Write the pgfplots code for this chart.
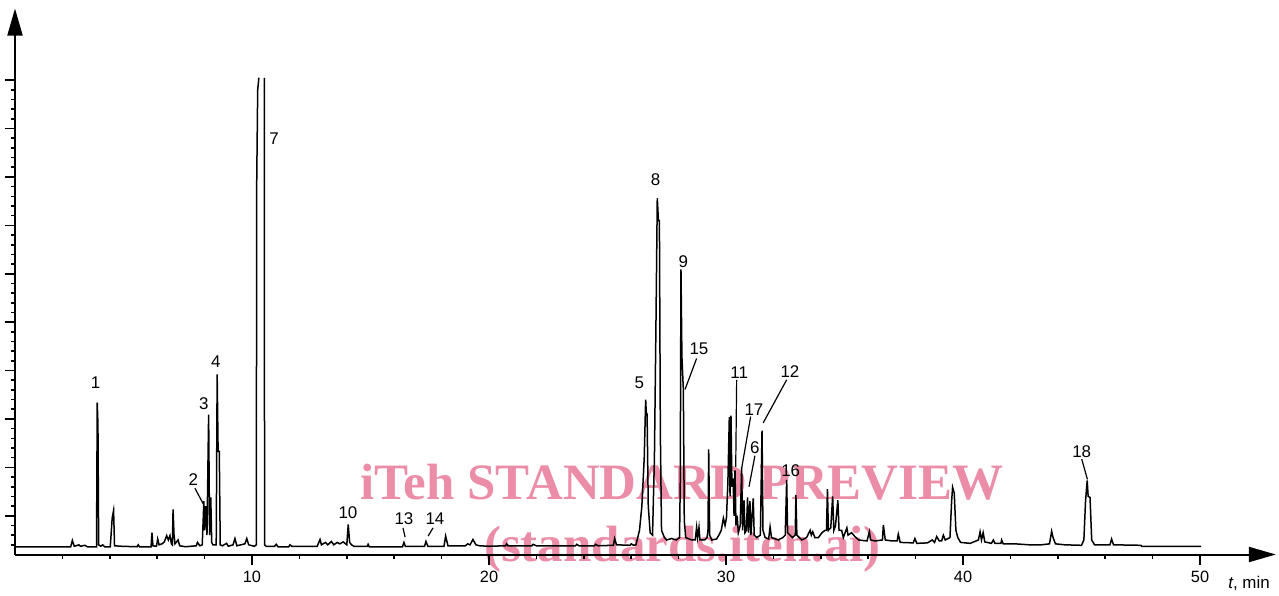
\documentclass[border=0pt]{standalone}
\usepackage{fontspec}
\setmainfont{Liberation Sans}
\newfontfamily\wmfont{Liberation Serif}
\usepackage{pgfplots}
\pgfplotsset{compat=1.18}
\usetikzlibrary{arrows.meta}
\definecolor{wmpink}{RGB}{236,141,168}
\begin{document}
\begin{tikzpicture}
\useasboundingbox (0,0) rectangle (639.5bp,298bp);
\node[anchor=base, text=wmpink, inner sep=0pt, font=\wmfont\bfseries\fontsize{25.6}{28}\selectfont] at (341bp,48bp) {iTeh STANDARD PREVIEW};
\node[anchor=base, text=wmpink, inner sep=0pt, font=\wmfont\bfseries\fontsize{25.6}{28}\selectfont] at (341.25bp,17.5bp) {(standards.iteh.ai)};
\begin{axis}[
  anchor=south west, at={(7.5bp,20.75bp)},
  x=11.85bp, y=24.2bp,
  xmin=0, xmax=53.2, ymin=0, ymax=11.28,
  axis lines=left,
  axis line style={line width=1bp, -{Triangle[length=13.5bp,width=7.5bp]}},
  xtick={10,20,30,40,50},
  minor xtick={2,4,6,8,12,14,16,18,22,24,26,28,32,34,36,38,42,44,46,48},
  ytick={0.8,1.8,2.8,3.8,4.8,5.8,6.8,7.8,8.8,9.8},
  minor ytick={0.2,0.4,0.6,1.0,1.2,1.4,1.6,2.0,2.2,2.4,2.6,3.0,3.2,3.4,3.6,4.0,4.2,4.4,4.6,5.0,5.2,5.4,5.6,6.0,6.2,6.4,6.6,7.0,7.2,7.4,7.6,8.0,8.2,8.4,8.6,9.0,9.2,9.4,9.6},
  yticklabels={},
  tick align=outside,
  major tick length=5bp, minor tick length=2.2bp,
  every tick/.style={line width=0.8bp, black},
  /pgf/number format/assume math mode=true,
  xticklabel style={font=\fontsize{8.2}{9}\selectfont},
  clip=false,
  unbounded coords=jump,
]
\addplot[black, line width=0.75bp, mark=none] coordinates {
(0,0.16) (2.35,0.16) (2.42,0.29) (2.5,0.17) (2.7,0.2) (2.76,0.17) (2.95,0.19) (3.05,0.16)
(3.44,0.16) (3.47,3.14) (3.5,2.68) (3.53,0.2) (3.62,0.17) (3.7,0.2) (3.78,0.16)
(4.02,0.16) (4.1,0.75) (4.16,0.91) (4.2,0.18) (4.5,0.17) (5.15,0.16) (5.2,0.2) (5.25,0.16)
(5.74,0.16) (5.78,0.45) (5.82,0.18) (5.97,0.17) (6.02,0.32) (6.08,0.2) (6.2,0.22) (6.3,0.26)
(6.4,0.39) (6.47,0.3) (6.54,0.39) (6.6,0.22) (6.64,0.2) (6.67,0.93) (6.71,0.4) (6.75,0.22)
(6.88,0.3) (6.95,0.18) (7.2,0.16) (7.65,0.18) (7.7,0.25) (7.8,0.18) (7.9,0.2)
(7.97,1.1) (8.0,0.5) (8.05,1.0) (8.1,0.4) (8.17,2.89) (8.21,0.4) (8.26,1.18) (8.3,0.25)
(8.35,0.2) (8.49,0.2) (8.53,3.72) (8.57,2.13) (8.62,2.13) (8.66,0.2) (8.75,0.18)
(8.93,0.23) (9.0,0.17) (9.2,0.2) (9.28,0.33) (9.36,0.18) (9.7,0.22) (9.78,0.33) (9.86,0.2)
(10.1,0.17) (10.18,0.2) (10.2,7.73) (10.24,9.6) (10.29,9.85) (10.4,nan) (10.52,9.85)
(10.53,0.2) (10.6,0.17) (10.95,0.17) (11.02,0.21) (11.1,0.16) (11.55,0.16) (11.6,0.2) (11.68,0.17)
(12.75,0.17) (12.87,0.31) (12.93,0.2) (13.1,0.25) (13.2,0.2) (13.35,0.27) (13.45,0.2)
(13.6,0.25) (13.7,0.22) (13.85,0.26) (14.0,0.2) (14.06,0.62) (14.12,0.25) (14.2,0.2) (14.3,0.17)
(14.87,0.17) (14.9,0.21) (14.95,0.16) (16.35,0.16) (16.41,0.25) (16.47,0.17)
(17.28,0.17) (17.34,0.27) (17.42,0.17) (18.1,0.17) (18.17,0.38) (18.27,0.18)
(19.0,0.18) (19.1,0.22) (19.2,0.2) (19.32,0.31) (19.45,0.2) (19.6,0.18) (20.0,0.17)
(20.7,0.18) (20.74,0.22) (20.8,0.18) (21.8,0.18) (21.86,0.21) (22.0,0.18) (23.65,0.18)
(23.7,0.21) (23.8,0.18) (24.45,0.18) (24.5,0.21) (24.6,0.18) (25.25,0.19) (25.3,0.33) (25.38,0.2)
(25.95,0.19) (26.0,0.22) (26.1,0.19) (26.2,0.2) (26.35,0.5) (26.45,1.0) (26.55,2.0) (26.61,3.2)
(26.64,2.9) (26.67,2.9) (26.72,1.0) (26.8,0.45) (26.9,0.4) (26.98,2.0) (27.05,5.0) (27.1,7.36)
(27.15,6.9) (27.19,6.9) (27.23,2.5) (27.28,0.5) (27.4,0.35) (27.5,0.3) (27.7,0.33) (27.9,0.3)
(28.04,0.35) (28.07,1.5) (28.1,5.89) (28.14,4.08) (28.2,3.41) (28.24,0.7) (28.3,0.35)
(28.55,0.3) (28.7,0.3) (28.76,0.56) (28.8,0.35) (28.86,0.56) (28.9,0.3) (29.1,0.3) (29.2,0.35)
(29.24,0.5) (29.27,2.17) (29.31,0.4) (29.4,0.3) (29.6,0.32) (29.7,0.4) (29.8,0.5) (29.89,0.75)
(29.96,0.6) (30.02,0.76) (30.08,1.5) (30.14,2.84) (30.17,1.2) (30.21,2.87) (30.25,1.4)
(30.3,1.57) (30.34,0.8) (30.38,1.74) (30.42,0.6) (30.47,0.8) (30.52,0.45) (30.6,0.6)
(30.66,1.8) (30.7,0.5) (30.76,1.12) (30.8,0.45) (30.86,0.5) (30.91,1.18) (30.95,0.45)
(31.01,1.1) (31.05,0.4) (31.15,1.16) (31.19,0.4) (31.3,0.35) (31.45,0.4) (31.52,2.56)
(31.56,0.5) (31.65,0.35) (31.8,0.32) (31.86,0.57) (31.92,0.35) (32.2,0.3) (32.4,0.35)
(32.5,0.4) (32.56,1.54) (32.6,0.45) (32.8,0.35) (32.92,0.4) (32.95,1.23) (32.99,0.4)
(33.2,0.3) (33.4,0.35) (33.55,0.5) (33.6,0.4) (33.66,0.47) (33.75,0.35) (33.9,0.35)
(34.05,0.45) (34.18,0.5) (34.24,0.5) (34.28,1.35) (34.32,0.5) (34.42,0.55) (34.5,1.2)
(34.55,0.5) (34.62,0.6) (34.72,1.12) (34.77,0.5) (34.88,0.5) (34.95,0.35) (35.1,0.55)
(35.15,0.4) (35.3,0.45) (35.44,0.37) (35.6,0.3) (35.95,0.28) (36.05,0.47) (36.1,0.3)
(36.3,0.28) (36.6,0.3) (36.64,0.61) (36.72,0.3) (37.0,0.28) (37.22,0.28) (37.27,0.42)
(37.35,0.25) (37.9,0.24) (37.97,0.33) (38.05,0.23) (38.5,0.24) (38.7,0.3) (38.8,0.25)
(38.89,0.37) (39.0,0.28) (39.1,0.28) (39.17,0.4) (39.25,0.3) (39.45,0.35) (39.52,1.1)
(39.56,1.39) (39.63,1.27) (39.7,0.5) (39.78,0.35) (39.9,0.25) (40.3,0.23) (40.65,0.3)
(40.72,0.47) (40.78,0.3) (40.85,0.45) (40.92,0.26) (41.2,0.23) (41.28,0.3) (41.35,0.23)
(41.6,0.23) (41.63,0.3) (41.7,0.22) (42.2,0.22) (42.8,0.2) (43.3,0.2) (43.65,0.22)
(43.74,0.48) (43.8,0.35) (43.9,0.22) (44.3,0.2) (45.0,0.19) (45.1,0.3) (45.17,1.1)
(45.24,1.53) (45.28,1.2) (45.36,1.18) (45.43,0.3) (45.55,0.2) (46.2,0.2) (46.27,0.32)
(46.35,0.2) (47.5,0.19) (47.55,0.17) (50.05,0.17)
};
\begin{scope}[every node/.style={font=\fontsize{8.5}{10}\selectfont, inner sep=0pt}]
\node at (axis cs:3.40,3.54) {1};
\node at (axis cs:7.52,1.54) {2};
\node at (axis cs:7.97,3.12) {3};
\node at (axis cs:8.47,3.98) {4};
\node at (axis cs:10.93,8.60) {7};
\node at (axis cs:14.05,0.86) {10};
\node at (axis cs:16.41,0.75) {13};
\node at (axis cs:17.72,0.75) {14};
\node at (axis cs:26.34,3.54) {5};
\node at (axis cs:27.03,7.74) {8};
\node at (axis cs:28.2,6.05) {9};
\node at (axis cs:28.86,4.25) {15};
\node at (axis cs:30.56,3.76) {11};
\node at (axis cs:31.18,3.0) {17};
\node at (axis cs:31.22,2.21) {6};
\node at (axis cs:32.7,3.78) {12};
\node at (axis cs:32.73,1.73) {16};
\node at (axis cs:45.01,2.12) {18};
\node at (axis cs:52.07,-0.59) {\textit{t}, min};
\end{scope}
\begin{scope}[line width=0.6bp]
\draw (axis cs:7.59,1.37) -- (axis cs:7.95,1.04);
\draw (axis cs:16.37,0.55) -- (axis cs:16.46,0.36);
\draw (axis cs:17.64,0.55) -- (axis cs:17.43,0.38);
\draw (axis cs:28.76,4.05) -- (axis cs:28.27,3.41);
\draw (axis cs:30.45,3.61) -- (axis cs:30.41,1.81);
\draw (axis cs:31.04,2.85) -- (axis cs:30.66,1.78);
\draw (axis cs:31.22,2.04) -- (axis cs:30.97,1.40);
\draw (axis cs:32.56,3.61) -- (axis cs:31.57,2.72);
\draw (axis cs:45.01,1.97) -- (axis cs:45.25,1.55);
\end{scope}
\end{axis}
\end{tikzpicture}
\end{document}
